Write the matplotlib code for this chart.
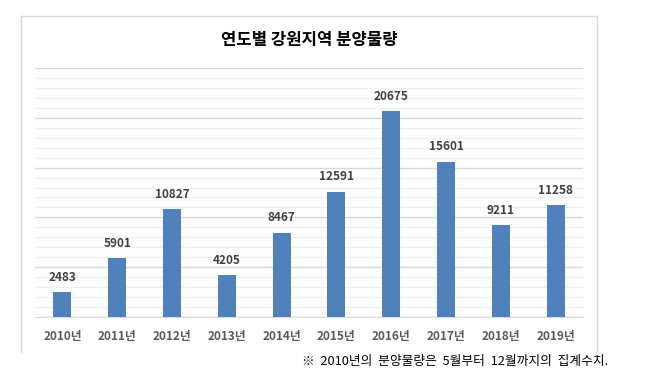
import matplotlib
matplotlib.use('Agg')
import matplotlib.pyplot as plt
from matplotlib.lines import Line2D
from matplotlib.ticker import MultipleLocator

plt.rcParams['font.family'] = ['Noto Sans CJK KR', 'DejaVu Sans']

years = ['2010년', '2011년', '2012년', '2013년', '2014년',
         '2015년', '2016년', '2017년', '2018년', '2019년']
supply = [2483, 5901, 10827, 4205, 8467, 12591, 20675, 15601, 9211, 11258]

fig = plt.figure(figsize=(6.56, 3.83), dpi=100)
ax = fig.add_axes([0.0534, 0.1723, 0.8353, 0.6502])

x = range(len(years))
bars = ax.bar(x, supply, width=0.33, color='#4F81BD', zorder=3)

ax.set_xlim(-0.5, len(years) - 0.5)
ax.set_ylim(0, 25000)
ax.yaxis.set_major_locator(MultipleLocator(5000))
ax.yaxis.set_minor_locator(MultipleLocator(1000))
ax.grid(axis='y', which='major', color='#D9D9D9', linewidth=1.0, zorder=0)
ax.grid(axis='y', which='minor', color='#F0F0F0', linewidth=1.0, zorder=0)
ax.tick_params(axis='y', which='both', left=False, labelleft=False)
ax.tick_params(axis='x', length=0, pad=9, labelsize=8.5, labelcolor='#595959')
ax.set_xticks(list(x))
ax.set_xticklabels(years, fontweight='bold')
for side in ['top', 'right', 'left']:
    ax.spines[side].set_visible(False)
ax.spines['bottom'].set_color('#D9D9D9')

for b, v in zip(bars, supply):
    ax.annotate(str(v), (b.get_x() + b.get_width() / 2, v),
                xytext=(0, 6), textcoords='offset points',
                ha='center', va='bottom', fontsize=8.5,
                fontweight='bold', color='#404040')

fig.text(0.471, 0.895, '연도별 강원지역 분양물량', ha='center', va='center',
         fontsize=12, fontweight='bold', color='black')

# chart border
bx0, bx1, by0, by1 = 21 / 656, 597 / 656, 1 - 352 / 383, 1 - 16 / 383
for xs, ys in [([bx0, bx0], [by0, by1]), ([bx0, bx1], [by1, by1]),
               ([bx1, bx1], [by1, by0])]:
    fig.add_artist(Line2D(xs, ys, color='#D9D9D9', linewidth=1.0))

fig.text(608 / 656, 1 - 362 / 383, '※  2010년의  분양물량은  5월부터  12월까지의  집계수치.',
         ha='right', va='center', fontsize=9.2, color='black')

fig.savefig('out.png', dpi=100)
